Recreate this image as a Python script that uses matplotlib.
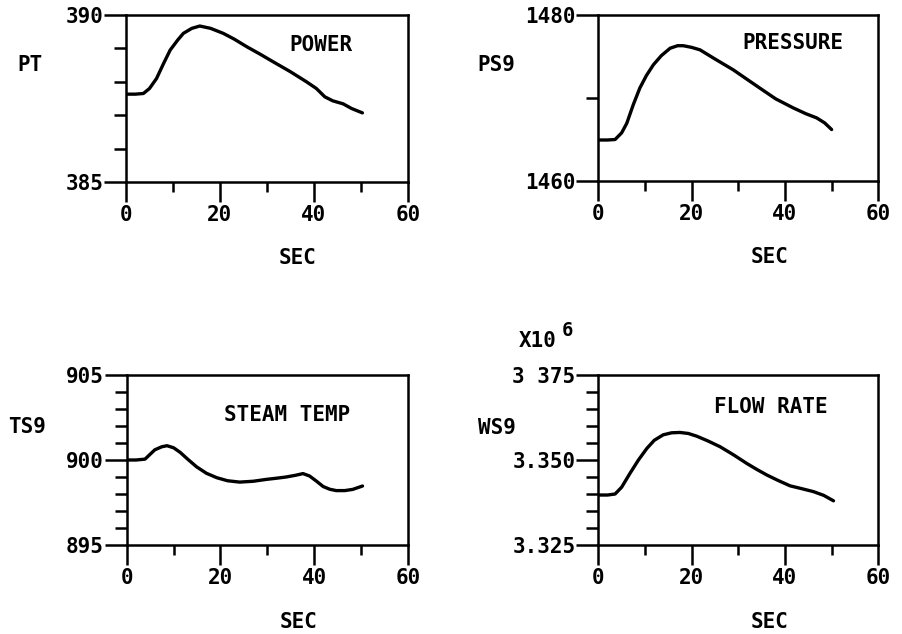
import matplotlib
matplotlib.use("Agg")
import matplotlib.pyplot as plt
from matplotlib.ticker import FixedLocator, FixedFormatter

plt.rcParams['font.family'] = ['DejaVu Sans Mono', 'DejaVu Sans']
plt.rcParams['font.weight'] = 'bold'
plt.rcParams['axes.labelweight'] = 'bold'

# ---- data ----
power_t = [0, 2, 3.7, 5, 6.5, 8, 9.4, 11, 12.2, 14, 15.7, 18, 20.7, 23, 25.7, 28.5, 31.3, 35, 38.4, 40.5, 42.3, 44, 46.2, 48, 50.3]
power_v = [387.63, 387.63, 387.65, 387.8, 388.1, 388.55, 388.95, 389.25, 389.45, 389.6, 389.67, 389.6, 389.45, 389.28, 389.05, 388.83, 388.6, 388.3, 388.0, 387.8, 387.55, 387.43, 387.34, 387.2, 387.07]

press_t = [0, 2, 3.6, 5, 6.1, 7.5, 8.9, 10.3, 11.8, 13.5, 15.4, 17, 18.2, 20, 21.8, 25, 28.9, 32, 34.6, 38, 41.8, 44.5, 46.8, 48.5, 50]
press_v = [1464.94, 1464.94, 1465.0, 1465.8, 1466.95, 1469.2, 1471.2, 1472.7, 1474.0, 1475.1, 1476.0, 1476.3, 1476.3, 1476.1, 1475.8, 1474.7, 1473.4, 1472.2, 1471.2, 1469.9, 1468.8, 1468.1, 1467.6, 1467.0, 1466.2]

temp_t = [0, 2, 3.9, 6.0, 7.5, 8.6, 10, 11.4, 13, 14.9, 17, 19.2, 21.5, 24.1, 27, 29.8, 32, 34.0, 36, 37.6, 39, 40.5, 41.9, 43.3, 44.7, 46.5, 48.2, 50.3]
temp_v = [900.0, 900.0, 900.05, 900.6, 900.78, 900.84, 900.72, 900.45, 900.05, 899.6, 899.22, 898.96, 898.78, 898.7, 898.75, 898.86, 898.93, 899.0, 899.1, 899.2, 899.06, 898.75, 898.44, 898.28, 898.2, 898.2, 898.27, 898.47]

flow_t = [0, 2, 3.6, 5, 6.8, 8.6, 10.4, 12, 13.9, 15.7, 17.5, 19.3, 21.1, 23.5, 26.1, 29, 31.8, 34, 36.1, 38.5, 41.1, 43.5, 46.1, 48.3, 50.4]
flow_v = [3.3397, 3.3397, 3.3400, 3.3420, 3.3461, 3.3500, 3.3534, 3.3558, 3.3574, 3.3580, 3.3581, 3.3578, 3.3570, 3.3556, 3.3539, 3.3515, 3.3490, 3.3472, 3.3456, 3.3440, 3.3424, 3.3416, 3.3407, 3.3396, 3.3380]

x_major = [0, 20, 40, 60]
x_minor = [10, 30, 50]
x_labels = ['0', '20', '40', '60']

panels = [
    dict(t=power_t, v=power_v, ylabel='PT', title='POWER',
         ylim=(385, 390), ymaj=[385, 390], ylab=['385', '390'],
         ymin=[386, 387, 388, 389],
         rect=[126 / 902, 1 - 182 / 634, 282 / 902, 167 / 634],
         title_xy=(0.69, 0.82), ylabel_xy=(-0.34, 0.70)),
    dict(t=press_t, v=press_v, ylabel='PS9', title='PRESSURE',
         ylim=(1460, 1480), ymaj=[1460, 1480], ylab=['1460', '1480'],
         ymin=[1470],
         rect=[598.3 / 902, 1 - 181 / 634, 280 / 902, 166 / 634],
         title_xy=(0.695, 0.83), ylabel_xy=(-0.363, 0.70)),
    dict(t=temp_t, v=temp_v, ylabel='TS9', title='STEAM TEMP',
         ylim=(895, 905), ymaj=[895, 900, 905], ylab=['895', '900', '905'],
         ymin=[896, 897, 898, 899, 901, 902, 903, 904],
         rect=[126.7 / 902, 1 - 545 / 634, 281.3 / 902, 170 / 634],
         title_xy=(0.57, 0.765), ylabel_xy=(-0.355, 0.694)),
    dict(t=flow_t, v=flow_v, ylabel='WS9', title='FLOW RATE',
         ylim=(3.325, 3.375), ymaj=[3.325, 3.350, 3.375], ylab=['3.325', '3.350', '3 375'],
         ymin=[3.330, 3.335, 3.340, 3.345, 3.355, 3.360, 3.365, 3.370],
         rect=[598.3 / 902, 1 - 545 / 634, 280 / 902, 170 / 634],
         title_xy=(0.615, 0.81), ylabel_xy=(-0.363, 0.688)),
]

fig = plt.figure(figsize=(9.02, 6.34), dpi=100)
fig.patch.set_facecolor('white')

FS = 15
axes = []
for p in panels:
    ax = fig.add_axes(p['rect'])
    ax.plot(p['t'], p['v'], color='black', lw=2.4, solid_capstyle='round', solid_joinstyle='round')
    ax.set_xlim(0, 60)
    ax.set_ylim(*p['ylim'])
    for s in ax.spines.values():
        s.set_linewidth(1.8)
        s.set_color('black')
    ax.xaxis.set_major_locator(FixedLocator(x_major))
    ax.xaxis.set_major_formatter(FixedFormatter(x_labels))
    ax.xaxis.set_minor_locator(FixedLocator(x_minor))
    ax.yaxis.set_major_locator(FixedLocator(p['ymaj']))
    ax.yaxis.set_major_formatter(FixedFormatter(p['ylab']))
    ax.yaxis.set_minor_locator(FixedLocator(p['ymin']))
    ax.tick_params(axis='x', which='major', direction='out', length=14.5, width=1.8, pad=2.0, labelsize=FS)
    ax.tick_params(axis='x', which='minor', direction='out', length=7, width=1.8)
    ax.tick_params(axis='y', which='major', direction='out', length=15.5, width=1.8, pad=1.0, labelsize=FS)
    ax.tick_params(axis='y', which='minor', direction='out', length=8.5, width=1.8)
    ax.set_xlabel('SEC', fontsize=FS, fontweight='bold')
    ax.xaxis.set_label_coords(0.61, -0.455)
    ax.xaxis.label.set_va('center')
    ax.set_ylabel(p['ylabel'], fontsize=FS, fontweight='bold', rotation=0, ha='center', va='center')
    ax.yaxis.set_label_coords(*p['ylabel_xy'])
    ax.text(p['title_xy'][0], p['title_xy'][1], p['title'], transform=ax.transAxes,
            ha='center', va='center', fontsize=FS, fontweight='bold')
    axes.append(ax)

axes[3].text(-0.285, 1.20, 'X10', transform=axes[3].transAxes,
             ha='left', va='center', fontsize=FS, fontweight='bold')
axes[3].text(-0.132, 1.262, '6', transform=axes[3].transAxes,
             ha='left', va='center', fontsize=FS * 0.9, fontweight='bold')

fig.savefig('out.png', dpi=100, facecolor='white')
